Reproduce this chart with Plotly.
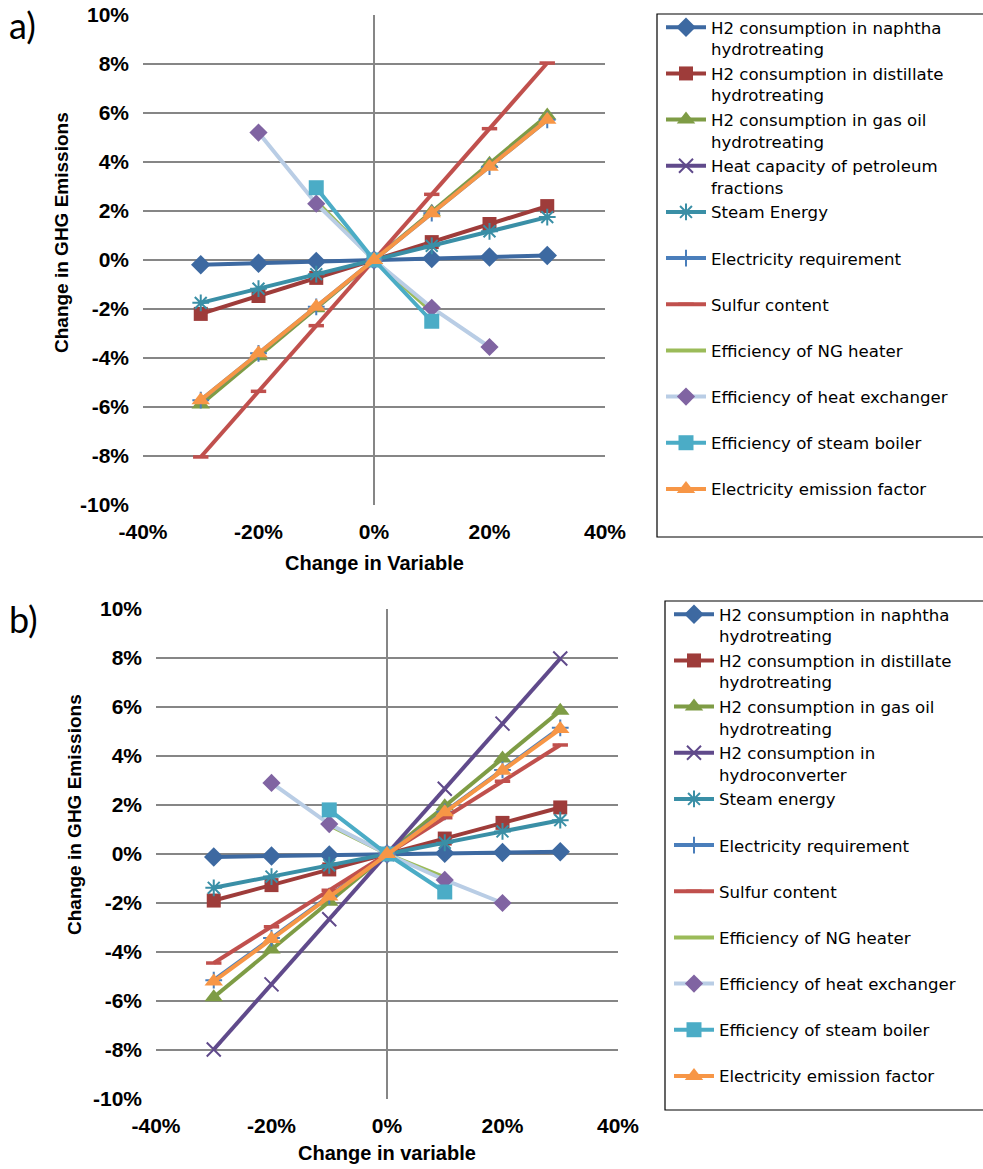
import plotly.graph_objects as go

# ---------------- data ----------------
x_vals = [-0.3, -0.2, -0.1, 0.0, 0.1, 0.2, 0.3]
x_three = [-0.1, 0.0, 0.1]
x_five = [-0.2, -0.1, 0.0, 0.1, 0.2]

# chart a)
a_naphtha = [-0.0019, -0.0013, -0.0006, 0.0, 0.0006, 0.0012, 0.0018]
a_distillate = [-0.0220, -0.0147, -0.0073, 0.0, 0.0073, 0.0147, 0.0220]
a_gasoil = [-0.0590, -0.0393, -0.0197, 0.0, 0.0197, 0.0393, 0.0590]
a_heatcap = [None, None, None, None, None, None, None]   # not visible in chart a)
a_steam = [-0.0175, -0.0117, -0.0058, 0.0, 0.0058, 0.0117, 0.0175]
a_elec_req = [-0.0572, -0.0381, -0.0191, 0.0, 0.0191, 0.0381, 0.0572]
a_sulfur = [-0.0804, -0.0536, -0.0268, 0.0, 0.0268, 0.0536, 0.0804]
a_ng_heater = [0.0240, 0.0, -0.0210]
a_heat_exch = [0.0520, 0.0230, 0.0, -0.0195, -0.0355]
a_boiler = [0.0295, 0.0, -0.0250]
a_eef = [-0.0572, -0.0381, -0.0191, 0.0, 0.0191, 0.0381, 0.0572]

# chart b)
b_naphtha = [-0.0012, -0.0008, -0.0004, 0.0, 0.0003, 0.0006, 0.0009]
b_distillate = [-0.0190, -0.0127, -0.0063, 0.0, 0.0063, 0.0127, 0.0190]
b_gasoil = [-0.0585, -0.0390, -0.0195, 0.0, 0.0195, 0.0390, 0.0585]
b_hydroconv = [-0.0798, -0.0532, -0.0266, 0.0, 0.0266, 0.0532, 0.0798]
b_steam = [-0.0138, -0.0092, -0.0046, 0.0, 0.0046, 0.0092, 0.0138]
b_elec_req = [-0.0515, -0.0343, -0.0172, 0.0, 0.0172, 0.0343, 0.0515]
b_sulfur = [-0.0445, -0.0297, -0.0148, 0.0, 0.0148, 0.0297, 0.0445]
b_ng_heater = [0.0118, 0.0, -0.0095]
b_heat_exch = [0.0290, 0.0122, 0.0, -0.0106, -0.0200]
b_boiler = [0.0180, 0.0, -0.0155]
b_eef = [-0.0520, -0.0347, -0.0173, 0.0, 0.0170, 0.0340, 0.0510]

x_tickvals = [-0.4, -0.2, 0.0, 0.2, 0.4]
x_ticktext = ["-40%", "-20%", "0%", "20%", "40%"]
y_tickvals = [-0.10, -0.08, -0.06, -0.04, -0.02, 0.0, 0.02, 0.04, 0.06, 0.08, 0.10]
y_ticktext = ["-10%", "-8%", "-6%", "-4%", "-2%", "0%", "2%", "4%", "6%", "8%", "10%"]

names_a = [
    "H2 consumption in naphtha<br>hydrotreating",
    "H2 consumption in distillate<br>hydrotreating",
    "H2 consumption in gas oil<br>hydrotreating",
    "Heat capacity of petroleum<br>fractions",
    "Steam Energy<br>\u00a0",
    "Electricity requirement<br>\u00a0",
    "Sulfur content<br>\u00a0",
    "Efficiency of NG heater<br>\u00a0",
    "Efficiency of heat exchanger<br>\u00a0",
    "Efficiency of steam boiler<br>\u00a0",
    "Electricity emission factor<br>\u00a0",
]
names_b = [
    "H2 consumption in naphtha<br>hydrotreating",
    "H2 consumption in distillate<br>hydrotreating",
    "H2 consumption in gas oil<br>hydrotreating",
    "H2 consumption in<br>hydroconverter",
    "Steam energy<br>\u00a0",
    "Electricity requirement<br>\u00a0",
    "Sulfur content<br>\u00a0",
    "Efficiency of NG heater<br>\u00a0",
    "Efficiency of heat exchanger<br>\u00a0",
    "Efficiency of steam boiler<br>\u00a0",
    "Electricity emission factor<br>\u00a0",
]

# ---------------- styles ----------------
LW = 4
styles = [
    dict(line=dict(color="#3D69A1", width=LW), marker=dict(symbol="diamond", size=15, color="#3D69A1")),
    dict(line=dict(color="#9E3C3A", width=LW), marker=dict(symbol="square", size=14, color="#9E3C3A")),
    dict(line=dict(color="#7E9C45", width=LW), marker=dict(symbol="triangle-up", size=16, color="#7E9C45")),
    dict(line=dict(color="#604A8B", width=LW), marker=dict(symbol="x-thin-open", size=14, color="#604A8B", line=dict(width=2, color="#604A8B"))),
    dict(line=dict(color="#3A8FA6", width=LW), marker=dict(symbol="asterisk-open", size=14, color="#3A8FA6", line=dict(width=2, color="#3A8FA6"))),
    dict(line=dict(color="#4A7EBB", width=LW), marker=dict(symbol="cross-thin-open", size=12, color="#4A7EBB", line=dict(width=2, color="#4A7EBB"))),
    dict(line=dict(color="#C0504D", width=LW), marker=dict(symbol="line-ew-open", size=11, color="#C0504D", line=dict(width=3.5, color="#C0504D"))),
    dict(line=dict(color="#9BBB59", width=LW), marker=dict(size=1, opacity=0)),
    dict(line=dict(color="#B9CDE5", width=LW), marker=dict(symbol="diamond", size=14, color="#8064A2")),
    dict(line=dict(color="#4BACC6", width=LW), marker=dict(symbol="square", size=15, color="#4BACC6")),
    dict(line=dict(color="#F79646", width=LW), marker=dict(symbol="triangle-up", size=16, color="#F79646")),
]
modes = ["lines+markers"] * 7 + ["lines"] + ["lines+markers"] * 3

series_a = [
    (x_vals, a_naphtha), (x_vals, a_distillate), (x_vals, a_gasoil),
    (x_vals, a_heatcap), (x_vals, a_steam), (x_vals, a_elec_req),
    (x_vals, a_sulfur), (x_three, a_ng_heater), (x_five, a_heat_exch),
    (x_three, a_boiler), (x_vals, a_eef),
]
series_b = [
    (x_vals, b_naphtha), (x_vals, b_distillate), (x_vals, b_gasoil),
    (x_vals, b_hydroconv), (x_vals, b_steam), (x_vals, b_elec_req),
    (x_vals, b_sulfur), (x_three, b_ng_heater), (x_five, b_heat_exch),
    (x_three, b_boiler), (x_vals, b_eef),
]

fig = go.Figure()
for i, (xs, ys) in enumerate(series_a):
    fig.add_trace(go.Scatter(x=xs, y=ys, name=names_a[i], mode=modes[i],
                             xaxis="x", yaxis="y", legend="legend",
                             **styles[i]))
for i, (xs, ys) in enumerate(series_b):
    fig.add_trace(go.Scatter(x=xs, y=ys, name=names_b[i], mode=modes[i],
                             xaxis="x2", yaxis="y2", legend="legend2",
                             **styles[i]))

W, H = 983, 1169
GRID = "#868686"
tick_font = dict(family="Liberation Sans, Arial", size=21, color="black", weight="bold")
title_font_x = dict(family="Liberation Sans, Arial", size=20, color="black", weight="bold")
title_font_y = dict(family="Liberation Sans, Arial", size=19, color="black", weight="bold")


def xaxis(domain, anchor):
    return dict(domain=domain, anchor=anchor, range=[-0.4, 0.4],
                tickvals=x_tickvals, ticktext=x_ticktext, showgrid=False,
                zeroline=True, zerolinecolor=GRID, zerolinewidth=2,
                showline=False, ticks="", tickfont=tick_font,
                ticklabelstandoff=12)


def yaxis(domain, anchor):
    return dict(domain=domain, anchor=anchor, range=[-0.1, 0.1],
                tickvals=y_tickvals, ticktext=y_ticktext, showgrid=True,
                gridcolor=GRID, gridwidth=1.5,
                zeroline=True, zerolinecolor=GRID, zerolinewidth=2,
                showline=False, ticks="", tickfont=tick_font,
                ticklabelstandoff=13)


legend_common = dict(xanchor="left", yanchor="top", borderwidth=0,
                     bgcolor="rgba(0,0,0,0)", valign="top", tracegroupgap=0, itemwidth=40,
                     font=dict(family="DejaVu Sans", size=16.6, color="black"))


def paper_ann(text, x, y, font, **kw):
    return dict(text=text, x=x / W, y=1 - y / H, xref="paper", yref="paper",
                showarrow=False, font=font, **kw)


def paper_box(x0, y0, x1, y1):
    return dict(type="rect", xref="paper", yref="paper",
                x0=x0 / W, x1=x1 / W, y0=1 - y1 / H, y1=1 - y0 / H,
                line=dict(color="black", width=1.2), fillcolor="rgba(0,0,0,0)",
                layer="below")


fig.update_layout(
    width=W, height=H,
    margin=dict(l=0, r=0, t=0, b=0, autoexpand=False),
    paper_bgcolor="white", plot_bgcolor="white",
    showlegend=True,
    xaxis=xaxis([143 / W, 605 / W], "y"),
    yaxis=yaxis([1 - 505 / H, 1 - 15 / H], "x"),
    xaxis2=xaxis([156 / W, 618 / W], "y2"),
    yaxis2=yaxis([1 - 1099 / H, 1 - 609 / H], "x2"),
    legend=dict(x=661 / W, y=1 - 10 / H, **legend_common),
    legend2=dict(x=669 / W, y=1 - 597 / H, **legend_common),
    shapes=[paper_box(657, 14, 995, 537), paper_box(665, 601, 995, 1110)],
    annotations=[
        paper_ann("a)", 7, 1, dict(family="Lato, Liberation Sans", size=36, color="black"),
                  xanchor="left", yanchor="top"),
        paper_ann("b)", 7, 595, dict(family="Lato, Liberation Sans", size=36, color="black"),
                  xanchor="left", yanchor="top"),
        paper_ann("Change in Variable", 374, 563, title_font_x, xanchor="center", yanchor="middle"),
        paper_ann("Change in variable", 387, 1153, title_font_x, xanchor="center", yanchor="middle"),
        paper_ann("Change in GHG Emissions", 62, 232, title_font_y, xanchor="center",
                  yanchor="middle", textangle=-90),
        paper_ann("Change in GHG Emissions", 74, 815, title_font_y, xanchor="center",
                  yanchor="middle", textangle=-90),
    ],
)

fig.write_html("out.html")
